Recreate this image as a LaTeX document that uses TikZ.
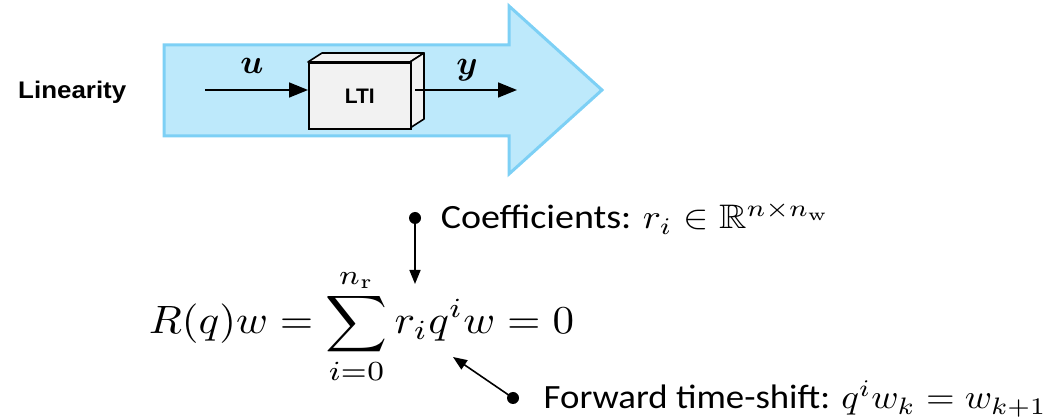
\documentclass[tikz,border=0pt]{standalone}
\usepackage{amsmath,amssymb,bm}
\usepackage{fontspec}
\newfontfamily\arialfont{Liberation Sans}
\newfontfamily\calfont{Carlito}
\usetikzlibrary{arrows.meta}
\definecolor{arrowfill}{HTML}{BDE9FB}
\definecolor{arrowedge}{HTML}{7DD0F5}
\definecolor{boxfill}{HTML}{F2F2F2}
\tikzset{
  conn/.style={line width=1.6pt, -{Triangle[length=19pt,width=15pt]}},
  pointer/.style={line width=1.6pt, -{Triangle[length=14pt,width=11pt]}},
  annot/.style={inner sep=0pt, font=\calfont},
  sig/.style={inner sep=0pt, scale=3.4},
  dot/.style={circle, fill=black, inner sep=0pt, minimum size=12pt}
}
\begin{document}
\begin{tikzpicture}[x=1pt,y=-1pt]
\useasboundingbox (0,0) rectangle (1053,419);
% big arrow
\draw[fill=arrowfill, draw=arrowedge, line width=3pt, line join=miter]
  (164,45) -- (509,45) -- (509,6) -- (602,90) -- (509,174) -- (509,136) -- (164,136) -- cycle;
% label
\node[anchor=base west, inner sep=0pt, xscale=1.08, font=\arialfont\bfseries\fontsize{24}{26}\selectfont] (lin) at (18,99) {Linearity};
% LTI box
\draw[fill=boxfill, line width=1.6pt, line join=round] (308,62) -- (322,53) -- (424,53) -- (410,62) -- cycle;
\draw[fill=boxfill, line width=1.6pt, line join=round] (410,62) -- (424,53) -- (424,119) -- (410,128) -- cycle;
\node[draw, fill=boxfill, line width=1.6pt, minimum width=102pt, minimum height=66pt, inner sep=0pt, anchor=north west,
  font=\arialfont\bfseries\fontsize{21}{23}\selectfont] (lti) at (308,62) {LTI};
\coordinate (uin) at (205,90);
\coordinate (uend) at (308,90);
\coordinate (ystart) at (415,90);
\coordinate (yout) at (517,90);
\draw[conn] (uin) -- (uend);
\draw[conn] (ystart) -- (yout);
\node[sig] (u) at (252,66) {$\bm{u}$};
\node[sig] (y) at (467,70) {$\bm{y}$};
% equation
\node[anchor=base west, inner sep=0pt, xscale=4.3, yscale=3.95] (eq) at (148,334)
  {$\displaystyle R(q)w=\sum_{i=0}^{n_{\mathrm{r}}} r_i q^i w = 0$};
% annotations
\node[annot, anchor=base west, xscale=3.8, yscale=3.4] (coef) at (440,229) {Coefficients: $r_i\in\mathbb{R}^{n\times n_{\mathrm{w}}}$};
\node[annot, anchor=base west, xscale=3.68, yscale=3.4] (fwd) at (543,409) {Forward time-shift: $q^i w_k = w_{k+1}$};
\node[dot] (cdot) at (415,218) {};
\node[dot] (fdot) at (513,398) {};
\coordinate (ctip) at (415,284);
\coordinate (ftip) at (453,357);
\draw[pointer] (cdot.center) -- (ctip);
\draw[pointer] (fdot.center) -- (ftip);
\end{tikzpicture}
\end{document}
